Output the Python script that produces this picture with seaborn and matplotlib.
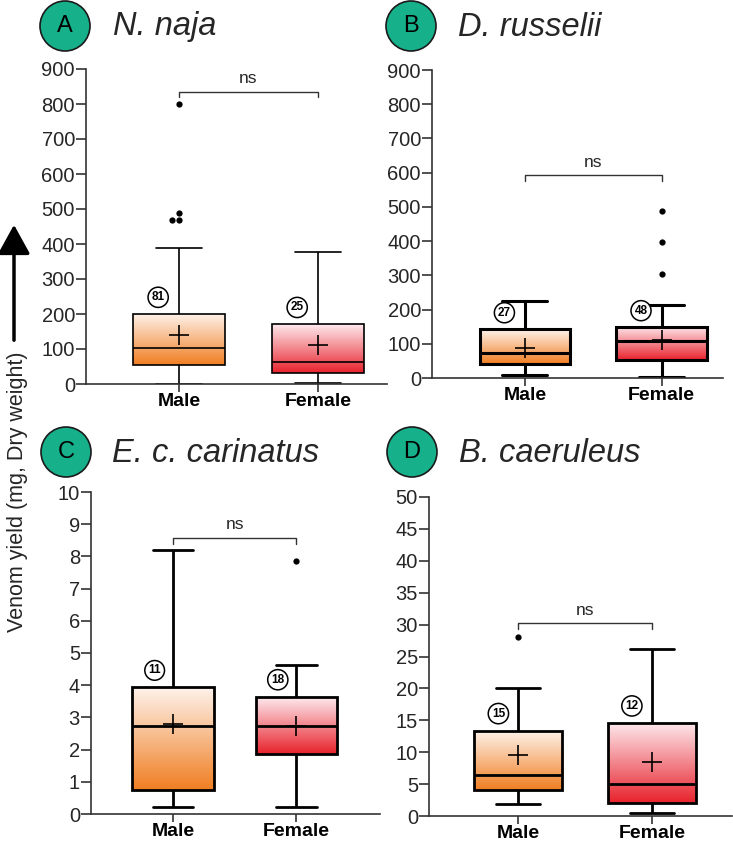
import numpy as np
import pandas as pd
import matplotlib
matplotlib.use("Agg")
import matplotlib.pyplot as plt
import seaborn as sns
from matplotlib.colors import LinearSegmentedColormap
from matplotlib.patches import Circle, FancyArrowPatch

sns.set_style("ticks")
plt.rcParams['font.family'] = ['Liberation Sans', 'DejaVu Sans']

# ---------------- data ----------------
categories = ["Male", "Female"]
species = ["N. naja", "D. russelii", "E. c. carinatus", "B. caeruleus"]
panel_letters = ["A", "B", "C", "D"]

# five-number summaries: lower whisker, Q1, median, Q3, upper whisker
naja_male = [0, 54, 103, 200, 388]
naja_female = [3, 31, 63, 171, 377]
russelii_male = [8, 42, 73, 143, 226]
russelii_female = [2, 52, 107, 149, 212]
carinatus_male = [0.21, 0.75, 2.74, 3.93, 8.19]
carinatus_female = [0.21, 1.87, 2.72, 3.64, 4.63]
caeruleus_male = [1.93, 4.06, 6.4, 13.4, 20.0]
caeruleus_female = [0.42, 1.98, 5.05, 14.6, 26.25]

# means (+)
naja_means = [141, 112]
russelii_means = [89, 111]
carinatus_means = [2.80, 2.74]
caeruleus_means = [9.5, 8.5]

# outliers
naja_out_male = [470, 470, 488, 800]
naja_out_female = []
russelii_out_male = []
russelii_out_female = [304, 396, 489]
carinatus_out_male = []
carinatus_out_female = [7.85]
caeruleus_out_male = [28.0]
caeruleus_out_female = []

# sample sizes
naja_n = [81, 25]
russelii_n = [27, 48]
carinatus_n = [11, 18]
caeruleus_n = [15, 12]

# y-axis ranges / ticks
y_max = [900, 900, 10, 50]
y_step = [100, 100, 1, 5]
bracket_y = [835, 592, 8.57, 30.2]
sig_text = ["ns", "ns", "ns", "ns"]

panels = [
    (naja_male, naja_female, naja_means, naja_out_male, naja_out_female, naja_n),
    (russelii_male, russelii_female, russelii_means, russelii_out_male, russelii_out_female, russelii_n),
    (carinatus_male, carinatus_female, carinatus_means, carinatus_out_male, carinatus_out_female, carinatus_n),
    (caeruleus_male, caeruleus_female, caeruleus_means, caeruleus_out_male, caeruleus_out_female, caeruleus_n),
]

# ---------------- layout (pixels) ----------------
W, H = 733, 843
fig = plt.figure(figsize=(W / 100, H / 100), dpi=100)

# left, right, top, bottom in pixels
ax_px = [(86, 387, 69, 384), (432, 723, 70, 378), (91, 380, 492, 814), (429, 732, 497, 816)]
xlims = [(-0.669, 1.496), (-0.68, 1.45), (-0.667, 1.68), (-0.67, 1.6)]
box_lw = [1.2, 2.2, 2.0, 2.0]
circle_px = [(65, 26), (411, 26), (66, 452), (412, 452)]
title_px = [113, 458, 112, 459]

cmaps = [
    LinearSegmentedColormap.from_list("m", ["#fef3ec", "#f07e22"]),
    LinearSegmentedColormap.from_list("f", ["#fdeaee", "#e8222c"]),
]
text_col = "#262626"

for p, (male, female, means, out_m, out_f, ns_) in enumerate(panels):
    l, r, t, b = ax_px[p]
    ax = fig.add_axes([l / W, 1 - b / H, (r - l) / W, (b - t) / H])

    df = pd.DataFrame({
        "sex": [categories[0]] * len(male) + [categories[1]] * len(female),
        "value": male + female,
    })
    sns.boxplot(data=df, x="sex", y="value", order=categories, hue="sex",
                hue_order=categories, palette=["#f07e22", "#e8222c"],
                whis=(0, 100), width=0.66, linecolor="black",
                linewidth=box_lw[p], showfliers=False, legend=False, ax=ax)

    # gradient fill in boxes
    for patch in list(ax.patches):
        ext = patch.get_path().get_extents()
        xc = (ext.x0 + ext.x1) / 2
        idx = int(round(xc))
        patch.set_facecolor("none")
        grad = np.linspace(1, 0, 256).reshape(-1, 1)
        im = ax.imshow(grad, extent=[ext.x0, ext.x1, ext.y0, ext.y1],
                       origin="lower", aspect="auto", cmap=cmaps[idx],
                       zorder=patch.get_zorder() - 0.1)
        im.set_clip_path(patch)

    # outliers
    odf = pd.DataFrame({
        "sex": [categories[0]] * len(out_m) + [categories[1]] * len(out_f),
        "value": out_m + out_f,
    })
    if len(odf):
        sns.swarmplot(data=odf, x="sex", y="value", order=categories,
                      color="black", size=4.5, ax=ax, zorder=4)
        for c in ax.collections:
            c.set_clip_on(False)

    # means
    pos = np.arange(len(categories))
    sns.scatterplot(x=pos, y=means, marker="+", s=210, color="black",
                    linewidth=1.2, ax=ax, zorder=6)

    ymax = y_max[p]
    # sample-size circles
    for i, n in enumerate(ns_):
        q3 = (male, female)[i][3]
        ax.text(i - 0.15, q3 + 0.053 * ymax, str(n), ha="center", va="center",
                fontsize=8.5, fontweight="bold", color="black", zorder=7,
                bbox=dict(boxstyle="circle,pad=0.3", fc="white", ec="black", lw=1.1))

    # significance bracket
    by = bracket_y[p]
    tip = 0.018 * ymax
    ax.plot([0, 0, 1, 1], [by - tip, by, by, by - tip], color="#333333", lw=1.0,
            clip_on=False, zorder=3)
    ax.text(0.5, by + 0.018 * ymax, sig_text[p], ha="center", va="bottom",
            fontsize=12.5, color=text_col)

    ax.set_xlim(*xlims[p])
    ax.set_ylim(0, ymax)
    ax.set_yticks(np.arange(0, ymax + y_step[p] / 2, y_step[p]))
    ax.set_xticks(pos)
    ax.set_xticklabels(categories, fontsize=14, fontweight="bold", color="black")
    ax.tick_params(axis="y", labelsize=14.5, labelcolor=text_col, length=7,
                   width=1.2, color="#333333", pad=1)
    ax.tick_params(axis="x", length=6, width=1.2, color="#333333", pad=0.5)
    ax.set_xlabel("")
    ax.set_ylabel("")
    for s in ["top", "right"]:
        ax.spines[s].set_visible(False)
    for s in ["left", "bottom"]:
        ax.spines[s].set_linewidth(1.2)
        ax.spines[s].set_color("#333333")
    ax.set_facecolor("none")

    # panel letter circle + italic title
    cx, cy = circle_px[p]
    fig.patches.append(Circle((cx, H - cy), 25, transform=None,
                              facecolor="#16b08b", edgecolor="#1a1a1a", lw=1.2))
    fig.text(cx / W, 1 - cy / H, panel_letters[p], ha="center", va="center",
             fontsize=17, color="black")
    fig.text(title_px[p] / W, 1 - (cy + 1) / H, species[p], ha="left", va="center",
             fontsize=23.5, fontstyle="italic", color=text_col)

# y-axis label and arrow
fig.text(18 / W, 1 - 632 / H, "Venom yield (mg, Dry weight)", rotation=90,
         rotation_mode="anchor", ha="left", va="center", fontsize=15.5, color=text_col)
fig.patches.append(FancyArrowPatch(
    (14, H - 343), (14, H - 222), transform=None,
    arrowstyle="-|>,head_width=0.55,head_length=1.0", mutation_scale=18,
    lw=2.5, color="black"))

fig.savefig("out.png", dpi=100)
